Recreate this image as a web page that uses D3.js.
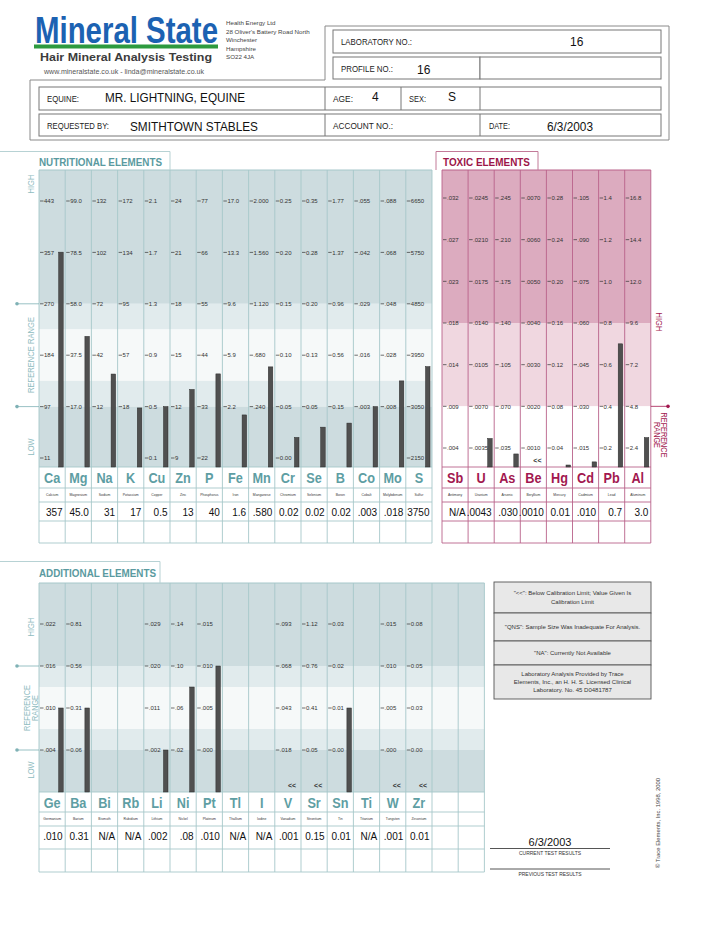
<!DOCTYPE html>
<html>
<head>
<meta charset="utf-8">
<script src="https://cdn.jsdelivr.net/npm/d3@7"></script>
<style>
  body { margin: 0; background: #fff; }
</style>
</head>
<body>
<svg id="chart" width="717" height="928"></svg>
<script>
// === DATA ===
const addressLines = ['Health Energy Ltd', "28 Oliver's Battery Road North", 'Winchester', 'Hampshire', 'SO22 4JA'];

const nutriSymbols = ['Ca', 'Mg', 'Na', 'K', 'Cu', 'Zn', 'P', 'Fe', 'Mn', 'Cr', 'Se', 'B', 'Co', 'Mo', 'S'];
const nutriNames = ['Calcium', 'Magnesium', 'Sodium', 'Potassium', 'Copper', 'Zinc', 'Phosphorus', 'Iron',
    'Manganese', 'Chromium', 'Selenium', 'Boron', 'Cobalt', 'Molybdenum', 'Sulfur'];
// tick labels, top row first (null = no label printed)
const nutriTicks = [
    ['443', '357', '270', '184', '97', '11'],
    ['99.0', '78.5', '58.0', '37.5', '17.0', null],
    ['132', '102', '72', '42', '12', null],
    ['172', '134', '95', '57', '18', null],
    ['2.1', '1.7', '1.3', '0.9', '0.5', '0.1'],
    ['24', '21', '18', '15', '12', '9'],
    ['77', '66', '55', '44', '33', '22'],
    ['17.0', '13.3', '9.6', '5.9', '2.2', null],
    ['2.000', '1.560', '1.120', '.680', '.240', null],
    ['0.25', '0.20', '0.15', '0.10', '0.05', '0.00'],
    ['0.35', '0.28', '0.20', '0.13', '0.05', null],
    ['1.77', '1.37', '0.96', '0.56', '0.15', null],
    ['.055', '.042', '.029', '.016', '.003', null],
    ['.088', '.068', '.048', '.028', '.008', null],
    ['6650', '5750', '4850', '3950', '3050', '2150']
];
const nutriValues = [357, 45.0, 31, 17, 0.5, 13, 40, 1.6, 0.580, 0.02, 0.02, 0.02, 0.003, 0.018, 3750];
const nutriLabels = ['357', '45.0', '31', '17', '0.5', '13', '40', '1.6', '.580', '0.02', '0.02', '0.02', '.003', '.018', '3750'];

const toxicSymbols = ['Sb', 'U', 'As', 'Be', 'Hg', 'Cd', 'Pb', 'Al'];
const toxicNames = ['Antimony', 'Uranium', 'Arsenic', 'Beryllium', 'Mercury', 'Cadmium', 'Lead', 'Aluminum'];
const toxicTicks = [
    ['.032', '.027', '.023', '.018', '.014', '.009', '.004'],
    ['.0245', '.0210', '.0175', '.0140', '.0105', '.0070', '.0035'],
    ['.245', '.210', '.175', '.140', '.105', '.070', '.035'],
    ['.0070', '.0060', '.0050', '.0040', '.0030', '.0020', '.0010'],
    ['0.28', '0.24', '0.20', '0.16', '0.12', '0.08', '0.04'],
    ['.105', '.090', '.075', '.060', '.045', '.030', '.015'],
    ['1.4', '1.2', '1.0', '0.8', '0.6', '0.4', '0.2'],
    ['16.8', '14.4', '12.0', '9.6', '7.2', '4.8', '2.4']
];
const toxicValues = [null, 0.0043, 0.030, 0.0010, 0.01, 0.010, 0.7, 3.0];
const toxicLabels = ['N/A', '.0043', '.030', '.0010', '0.01', '.010', '0.7', '3.0'];
const toxicBelow = ['Be'];

const addSymbols = ['Ge', 'Ba', 'Bi', 'Rb', 'Li', 'Ni', 'Pt', 'Tl', 'I', 'V', 'Sr', 'Sn', 'Ti', 'W', 'Zr'];
const addNames = ['Germanium', 'Barium', 'Bismuth', 'Rubidium', 'Lithium', 'Nickel', 'Platinum', 'Thallium',
    'Iodine', 'Vanadium', 'Strontium', 'Tin', 'Titanium', 'Tungsten', 'Zirconium'];
const addTicks = [
    ['.022', '.016', '.010', '.004'],
    ['0.81', '0.56', '0.31', '0.06'],
    [], [],
    ['.029', '.020', '.011', '.002'],
    ['.14', '.10', '.06', '.02'],
    ['.015', '.010', '.005', '.000'],
    [], [],
    ['.093', '.068', '.043', '.018'],
    ['1.12', '0.76', '0.41', '0.05'],
    ['0.03', '0.02', '0.01', '0.00'],
    [],
    ['.015', '.010', '.005', '.000'],
    ['0.08', '0.05', '0.03', '0.00']
];
const addValues = [0.010, 0.31, null, null, 0.002, 0.08, 0.010, null, null, 0.001, 0.15, 0.01, null, 0.001, 0.01];
const addLabels = ['.010', '0.31', 'N/A', 'N/A', '.002', '.08', '.010', 'N/A', 'N/A', '.001', '0.15', '0.01', 'N/A', '.001', '0.01'];
const addBelow = ['V', 'Sr', 'W', 'Zr'];

const noteLines = [
    ['"<<": Below Calibration Limit; Value Given Is', 'Calibration Limit'],
    ['"QNS": Sample Size Was Inadequate For Analysis.'],
    ['"NA": Currently Not Available'],
    ['Laboratory Analysis Provided by Trace', 'Elements, Inc., an H. H. S. Licensed Clinical', 'Laboratory.      No. 45 D0481787']
];

// === HELPERS ===
const svg = d3.select('#chart');
const SANS = 'Liberation Sans, Arial, sans-serif';
const NARROW = 'Liberation Sans Narrow, Arial Narrow, Liberation Sans, Arial, sans-serif';

function txt(g, x, y, s, o = {}) {
    const t = g.append('text')
        .attr('x', x).attr('y', y)
        .attr('font-family', o.family || SANS)
        .attr('font-size', o.size || 8)
        .attr('fill', o.fill || '#222')
        .text(s);
    if (o.weight) t.attr('font-weight', o.weight);
    if (o.anchor) t.attr('text-anchor', o.anchor);
    if (o.w) t.attr('textLength', o.w).attr('lengthAdjust', 'spacingAndGlyphs');
    if (o.rotate) t.attr('transform', `rotate(${o.rotate},${x},${y})`);
    if (o.sx) t.attr('x', 0).attr('y', 0).attr('transform', `translate(${x},${y}) scale(${o.sx},1)`);
    return t;
}

function hline(g, x1, x2, y, color, w = 1) {
    g.append('line').attr('x1', x1).attr('x2', x2).attr('y1', y).attr('y2', y)
        .attr('stroke', color).attr('stroke-width', w);
}
function vline(g, x, y1, y2, color, w = 1) {
    g.append('line').attr('x1', x).attr('x2', x).attr('y1', y1).attr('y2', y2)
        .attr('stroke', color).attr('stroke-width', w);
}

// === HEADER ===
txt(svg, 35, 43, 'Mineral State', { size: 37, weight: 'bold', fill: '#1c62b2', w: 183, family: NARROW });
svg.append('rect').attr('x', 34).attr('y', 44.5).attr('width', 184).attr('height', 4).attr('fill', '#2d9a3e');
txt(svg, 40, 61, 'Hair Mineral Analysis Testing', { size: 10.5, weight: 'bold', fill: '#3c3c3c', w: 172 });
txt(svg, 44, 73.5, 'www.mineralstate.co.uk - linda@mineralstate.co.uk', { size: 6.5, fill: '#555', w: 160 });
addressLines.forEach((s, i) => txt(svg, 226, 25 + i * 8.5, s, { size: 6.2, fill: '#444' }));

// form frame
svg.append('path').attr('d', 'M30,80 H325 V26 H669 V140 H30 Z')
    .attr('fill', 'none').attr('stroke', '#8a8a8a');
const boxes = [[333, 30, 328, 23], [333, 57, 147, 22], [480, 57, 181, 22], [39, 87, 622, 23], [39, 114, 622, 22]];
boxes.forEach(([x, y, w, h]) => svg.append('rect').attr('x', x).attr('y', y).attr('width', w).attr('height', h)
    .attr('fill', '#fff').attr('stroke', '#777'));
vline(svg, 325, 87, 110, '#777'); vline(svg, 401, 87, 110, '#777'); vline(svg, 480, 87, 110, '#777');
vline(svg, 325, 114, 136, '#777'); vline(svg, 480, 114, 136, '#777');

const lab = { size: 8.5, fill: '#222', family: NARROW };
txt(svg, 341, 45, 'LABORATORY NO.:', { ...lab, w: 71 });
txt(svg, 341, 72, 'PROFILE NO.:', { ...lab, w: 52 });
txt(svg, 47, 102, 'EQUINE:', { ...lab, w: 32 });
txt(svg, 333, 102, 'AGE:', { ...lab, w: 20 });
txt(svg, 409, 102, 'SEX:', { ...lab, w: 17 });
txt(svg, 47, 129, 'REQUESTED BY:', { ...lab, w: 62 });
txt(svg, 333, 129, 'ACCOUNT NO.:', { ...lab, w: 60 });
txt(svg, 489, 129, 'DATE:', { ...lab, w: 21 });
const val = { size: 12, fill: '#111' };
txt(svg, 570, 46, '16', val);
txt(svg, 417, 74, '16', val);
txt(svg, 105, 102, 'MR. LIGHTNING, EQUINE', { ...val, w: 140 });
txt(svg, 372, 101, '4', val);
txt(svg, 448, 101, 'S', val);
txt(svg, 130, 131, 'SMITHTOWN STABLES', { ...val, w: 128 });
txt(svg, 547, 131, '6/3/2003', { ...val, w: 46 });

// === PANELS ===
function drawPanel(p) {
    const g = svg.append('g');
    const n = p.nCols;
    const x = d3.scaleBand().domain(d3.range(n)).range([p.x0, p.x0 + n * p.colW]);
    const x1 = p.x0 + n * p.colW;
    const lvl = d3.scaleLinear().domain([0, p.nLevels - 1]).range([p.yFirst, p.yLast]);
    const rowY = p.rows.map(d => p.bottom + d);
    const tableBottom = rowY[rowY.length - 1];

    // background bands
    p.bands.forEach(([a, b, fill]) => {
        const y0 = a === null ? p.top : lvl(a);
        const y1 = b === null ? p.bottom : lvl(b);
        g.append('rect').attr('x', p.x0).attr('y', y0).attr('width', x1 - p.x0)
            .attr('height', y1 - y0).attr('fill', fill);
    });

    // grid
    d3.range(n + 1).forEach(i => vline(g, p.x0 + i * p.colW, p.top, tableBottom, p.grid, 0.9));
    hline(g, p.x0, x1, p.top, p.grid, 1);
    rowY.forEach(y => hline(g, p.x0, x1, y, p.grid, 0.9));

    // tick labels per column
    p.ticks.forEach((col, i) => {
        col.forEach((lab, j) => {
            if (!lab) return;
            const y = lvl(j);
            hline(g, x(i) + 1, x(i) + 4.5, y, '#333', 0.7);
            txt(g, x(i) + 5, y + 2.2, lab, { size: 6, fill: '#333', family: NARROW });
        });
    });

    // bars: each column has its own linear scale from its tick labels
    p.values.forEach((v, i) => {
        if (v === null || p.below.includes(p.symbols[i])) return;
        const nums = p.ticks[i].map((t, j) => ({ j, v: t === null ? null : +t })).filter(d => d.v !== null);
        const a = nums[0], b = nums[nums.length - 1];
        const s = d3.scaleLinear().domain([b.v, a.v]).range([lvl(b.j), lvl(a.j)]);
        const yTop = Math.min(s(v), p.bottom - 2);
        g.append('rect')
            .attr('x', x(i) + p.colW - 6.5).attr('y', yTop)
            .attr('width', 4.5).attr('height', p.bottom - yTop)
            .attr('fill', '#505050').attr('stroke', '#2a2a2a').attr('stroke-width', 0.5);
    });

    // "<<" markers
    p.symbols.forEach((sym, i) => {
        if (!p.below.includes(sym)) return;
        txt(g, x(i) + p.colW - 9, p.bottom - 4, '<<', { size: 7, weight: 'bold', fill: '#333', anchor: 'middle' });
    });

    // table: symbols, names, values
    p.symbols.forEach((sym, i) => {
        const cx = x(i) + p.colW / 2;
        txt(g, cx, rowY[0] + 15.5, sym, { size: 15.5, weight: 'bold', fill: p.symColor, anchor: 'middle', sx: 0.82 });
        txt(g, cx, rowY[1] + 8, p.names[i], { size: 4, fill: '#333', anchor: 'middle', sx: 0.85 });
        txt(g, x(i) + p.colW - 2.5, rowY[2] + 14, p.labels[i], { size: 10, fill: '#111', anchor: 'end' });
    });

    return { x, lvl, x1 };
}

const teal = { dark: '#cddcdf', tint: '#e1ebed', light: '#f6f9f9', grid: '#a6c7ca', sym: '#5e9ea3', label: '#8fbcbf' };

// Nutritional
const nutri = drawPanel({
    symbols: nutriSymbols, names: nutriNames, ticks: nutriTicks, values: nutriValues, labels: nutriLabels, below: [],
    x0: 39, colW: 26.2, nCols: 15, top: 170, bottom: 467, nLevels: 6, yFirst: 201, yLast: 458,
    bands: [[null, 2, teal.dark], [2, 2.5, teal.tint], [2.5, 3.5, teal.light], [3.5, 4, teal.tint], [4, null, teal.dark]],
    rows: [0, 21, 35, 54, 76], grid: teal.grid, symColor: teal.sym
});

// Toxic
const toxic = drawPanel({
    symbols: toxicSymbols, names: toxicNames, ticks: toxicTicks, values: toxicValues, labels: toxicLabels, below: toxicBelow,
    x0: 442, colW: 26.1, nCols: 8, top: 170, bottom: 467, nLevels: 7, yFirst: 198, yLast: 448,
    bands: [[null, 3, '#dcabbf'], [3, 5, '#f0d7e0'], [5, null, '#ffffff']],
    rows: [0, 21, 35, 54, 76], grid: '#b9628a', symColor: '#a2184f'
});

// Additional
const extra = drawPanel({
    symbols: addSymbols, names: addNames, ticks: addTicks, values: addValues, labels: addLabels, below: addBelow,
    x0: 39, colW: 26.2, nCols: 17, top: 583, bottom: 792, nLevels: 4, yFirst: 624, yLast: 750,
    bands: [[null, 1, teal.dark], [1, 1.5, teal.tint], [1.5, 2.5, teal.light], [2.5, 3, teal.tint], [3, null, teal.dark]],
    rows: [0, 20, 34, 57, 80], grid: teal.grid, symColor: teal.sym
});

// === SECTION TABS ===
const tabLine = '#b7d2d4';
svg.append('path').attr('d', 'M0,151.5 H170 V170').attr('fill', 'none').attr('stroke', tabLine);
txt(svg, 39, 165.5, 'NUTRITIONAL ELEMENTS', { size: 11, weight: 'bold', fill: '#5a9aa0', w: 123, family: NARROW });
svg.append('path').attr('d', 'M436,170 V151.5 H538 V170').attr('fill', 'none').attr('stroke', '#c27a98');
txt(svg, 443, 165.5, 'TOXIC ELEMENTS', { size: 11, weight: 'bold', fill: '#9c1648', w: 87, family: NARROW });
svg.append('path').attr('d', 'M0,561.5 H160 V583').attr('fill', 'none').attr('stroke', tabLine);
txt(svg, 39, 577, 'ADDITIONAL ELEMENTS', { size: 11, weight: 'bold', fill: '#5a9aa0', w: 117, family: NARROW });

// === SIDE LABELS ===
function sideMark(y, xa, xb, dotX, color) {
    hline(svg, xa, xb, y, color, 0.8);
    svg.append('circle').attr('cx', dotX).attr('cy', y).attr('r', 1.8).attr('fill', color);
}
const sl = { size: 9, fill: teal.label, family: NARROW, anchor: 'middle', rotate: -90 };
txt(svg, 34, 184, 'HIGH', { ...sl, w: 19 });
txt(svg, 34, 355, 'REFERENCE RANGE', { ...sl, w: 76 });
txt(svg, 34, 447, 'LOW', { ...sl, w: 17 });
sideMark(nutri.lvl(2), 17, 39, 17, '#7fb1b5');
sideMark(nutri.lvl(4), 17, 39, 17, '#7fb1b5');

txt(svg, 34, 627, 'HIGH', { ...sl, w: 19 });
txt(svg, 30, 708, 'REFERENCE', { ...sl, w: 46 });
txt(svg, 38, 708, 'RANGE', { ...sl, w: 26 });
txt(svg, 34, 770, 'LOW', { ...sl, w: 17 });
sideMark(extra.lvl(1), 17, 39, 17, '#7fb1b5');
sideMark(extra.lvl(3), 17, 39, 17, '#7fb1b5');

const tr = { size: 9, fill: '#a2184f', family: NARROW, anchor: 'middle', rotate: 90 };
txt(svg, 656, 322, 'HIGH', { ...tr, w: 19 });
txt(svg, 661, 435, 'REFERENCE', { ...tr, w: 45 });
txt(svg, 654, 435, 'RANGE', { ...tr, w: 26 });
sideMark(toxic.lvl(5), toxic.x1, 668, 668, '#a2184f');

// === NOTES BOX ===
const noteRows = [[582, 613], [613, 641], [641, 665], [665, 699]];
noteRows.forEach(([y0, y1], i) => {
    svg.append('rect').attr('x', 494).attr('y', y0).attr('width', 157).attr('height', y1 - y0)
        .attr('fill', '#e8e8e8').attr('stroke', '#555').attr('stroke-width', 0.9);
    const lines = noteLines[i];
    const mid = (y0 + y1) / 2;
    lines.forEach((s, k) => {
        const y = mid + 2 + (k - (lines.length - 1) / 2) * 8.3;
        txt(svg, 572.5, y, s, { size: 6, fill: '#333', anchor: 'middle', family: NARROW });
    });
});

// === FOOTER ===
txt(svg, 550, 846, '6/3/2003', { size: 11, fill: '#111', anchor: 'middle' });
hline(svg, 490, 610, 848.5, '#555');
txt(svg, 550, 855, 'CURRENT TEST RESULTS', { size: 4.6, fill: '#333', anchor: 'middle', w: 62 });
hline(svg, 490, 610, 869, '#555');
txt(svg, 550, 875.5, 'PREVIOUS TEST RESULTS', { size: 4.6, fill: '#333', anchor: 'middle', w: 63 });
txt(svg, 660, 823, '\u00A9 Trace Elements, Inc. 1998, 2000', { size: 6, fill: '#444', anchor: 'middle', rotate: -90, w: 90, family: NARROW });
</script>
</body>
</html>
